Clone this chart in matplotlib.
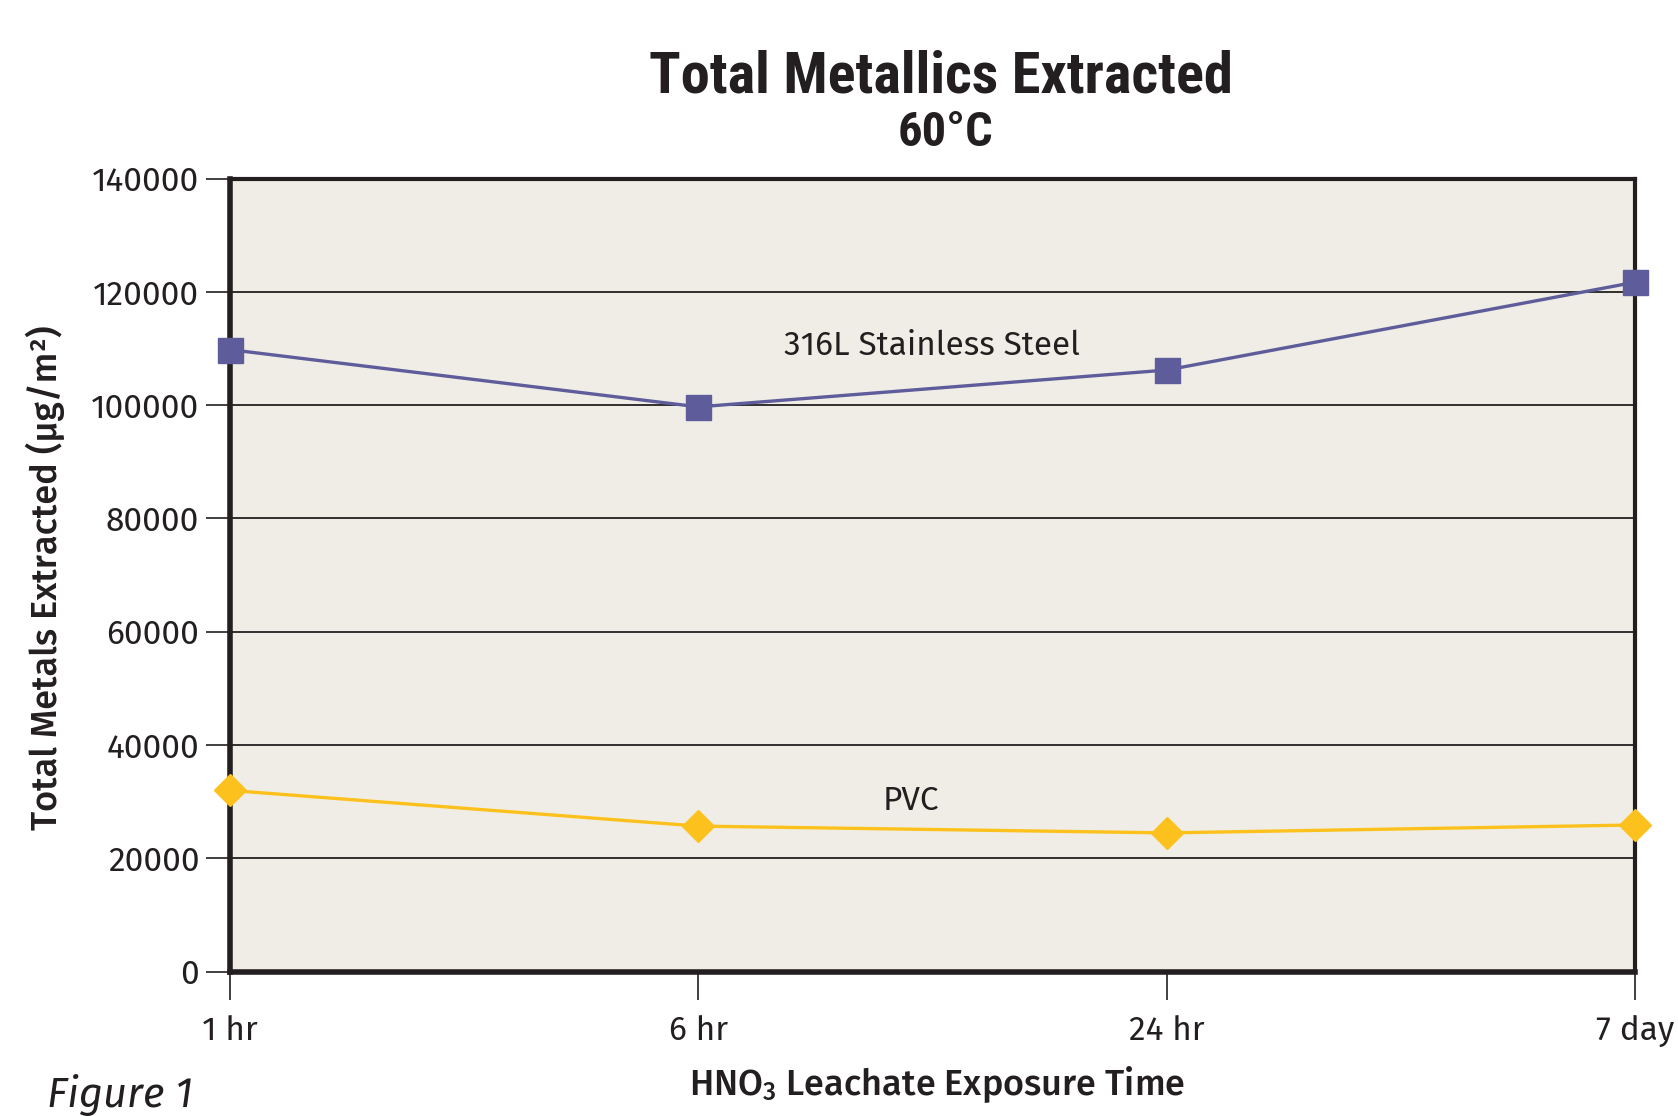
import matplotlib
matplotlib.use("Agg")
import matplotlib.pyplot as plt

# data
times = ["1 hr", "6 hr", "24 hr", "7 day"]
steel_316l = [109800, 99700, 106200, 121700]
pvc = [32000, 25700, 24500, 25900]
y_ticks = [0, 20000, 40000, 60000, 80000, 100000, 120000, 140000]

body = ['Fira Sans', 'DejaVu Sans']
head = ['Roboto Condensed', 'DejaVu Sans']
plt.rcParams['font.family'] = body
plt.rcParams['font.weight'] = 400
plt.rcParams['mathtext.default'] = 'regular'

ink = '#231F20'
fig = plt.figure(figsize=(16.78, 11.16), dpi=100)
ax = fig.add_axes([0.137, 0.1293, 0.9744 - 0.137, 0.840 - 0.1293])
ax.set_facecolor('#F0EDE6')

x = list(range(len(times)))
ax.plot(x, steel_316l, color='#5E5C9A', lw=2.4, marker='s', ms=18,
        clip_on=False, zorder=5)
ax.plot(x, pvc, color='#FDC11D', lw=2.4, marker='D', ms=16.5,
        clip_on=False, zorder=5)

ax.set_xlim(0, 3)
ax.set_ylim(0, 140000)
ax.set_yticks(y_ticks)
ax.set_yticklabels([str(v) for v in y_ticks])
ax.set_xticks(x)
ax.set_xticklabels(times)
ax.grid(axis='y', color=ink, lw=1.3)
ax.set_axisbelow(True)

for s in ['left', 'bottom']:
    ax.spines[s].set_linewidth(4)
for s in ['top', 'right']:
    ax.spines[s].set_linewidth(3)
for s in ax.spines.values():
    s.set_color(ink)

ax.tick_params(axis='y', length=17, width=1.2, color=ink, labelsize=24,
               labelcolor=ink, pad=5)
ax.tick_params(axis='x', length=20, width=1.2, color=ink, labelsize=24,
               labelcolor=ink, pad=11)

ax.text(1.5, 108850, "316L Stainless Steel", fontsize=24, fontweight=400,
        color=ink, ha='center', va='baseline')
ax.text(1.4535, 28540, "PVC", fontsize=24, fontweight=400, color=ink,
        ha='center', va='baseline')

fig.text(0.5608, 0.9167, "Total Metallics Extracted", fontsize=42,
         family=head, fontweight='bold', color=ink, ha='center', va='baseline')
fig.text(0.5637, 0.8696, "60°C", fontsize=35, family=head, fontweight='bold',
         color=ink, ha='center', va='baseline')
fig.text(0.0268, 0.482, "Total Metals Extracted (µg/m²)", fontsize=26,
         fontweight=500, color=ink, rotation=90, ha='center', va='center')
fig.text(0.5584, 0.0188, "HNO$_3$ Leachate Exposure Time", fontsize=26,
         fontweight=500, color=ink, ha='center', va='baseline')
fig.text(0.028, 0.008, "Figure 1", fontsize=30, fontweight=400,
         style='italic', color=ink, ha='left', va='baseline')

fig.savefig("out.png", dpi=100)
